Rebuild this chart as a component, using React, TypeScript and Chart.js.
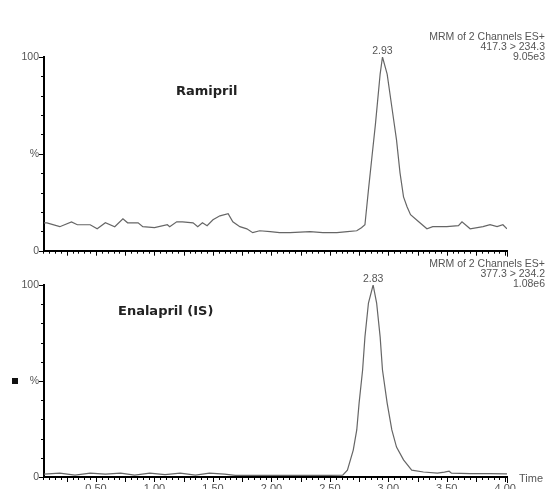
import React, { useEffect, useRef } from "react";
import { Chart, registerables } from "chart.js";

Chart.register(...registerables);

// ---- data (retention time in min, relative intensity in %) ----
const topTime = [0.055, 0.08, 0.19, 0.29, 0.34, 0.45, 0.51, 0.58, 0.66, 0.73, 0.77, 0.86, 0.9, 1.0, 1.11, 1.13, 1.19, 1.24, 1.33, 1.37, 1.41, 1.45, 1.5, 1.56, 1.63, 1.67, 1.73, 1.79, 1.84, 1.9, 1.99, 2.07, 2.16, 2.33, 2.44, 2.56, 2.65, 2.73, 2.77, 2.8, 2.83, 2.86, 2.89, 2.93, 2.95, 2.99, 3.03, 3.07, 3.1, 3.13, 3.16, 3.19, 3.25, 3.33, 3.38, 3.5, 3.6, 3.63, 3.7, 3.81, 3.87, 3.93, 3.98, 4.015];
const topIntensity = [14.4, 14.4, 12.4, 14.9, 13.4, 13.4, 11.3, 14.4, 12.4, 16.5, 14.4, 14.4, 12.4, 11.9, 13.4, 12.4, 14.9, 14.9, 14.4, 12.4, 14.4, 12.9, 16.0, 18.0, 19.1, 14.9, 12.4, 11.3, 9.3, 10.3, 9.8, 9.3, 9.3, 9.8, 9.3, 9.3, 9.8, 10.3, 11.9, 13.4, 31.4, 48.5, 65.5, 91.2, 100, 91.2, 74.2, 57.2, 40.2, 27.8, 22.7, 18.6, 15.5, 11.3, 12.4, 12.4, 12.9, 14.9, 11.3, 12.4, 13.4, 12.4, 13.4, 11.3];

const bottomTime = [0.055, 0.19, 0.32, 0.45, 0.58, 0.71, 0.83, 0.96, 1.09, 1.22, 1.35, 1.47, 1.6, 1.69, 1.9, 2.24, 2.5, 2.61, 2.65, 2.7, 2.73, 2.75, 2.78, 2.8, 2.83, 2.87, 2.9, 2.93, 2.95, 2.99, 3.03, 3.07, 3.13, 3.2, 3.3, 3.42, 3.48, 3.52, 3.54, 3.7, 3.87, 4.015];
const bottomIntensity = [1.5, 2, 1, 2, 1.5, 2, 1, 2, 1.2, 2, 1, 2, 1.5, 0.8, 0.8, 0.8, 0.8, 1, 3.6, 14, 24.5, 38.5, 55.7, 73, 90.6, 100, 90.6, 73, 55.7, 38.5, 24.5, 15.6, 8.9, 3.6, 2.6, 2, 2.5, 3, 2, 1.8, 1.8, 1.6];

const xTickLabels = [0.5, 1.0, 1.5, 2.0, 2.5, 3.0, 3.5, 4.0];
const yTickLabels = [0, 50, 100];

const topCompound = "Ramipril";
const bottomCompound = "Enalapril (IS)";
const topPeakLabel = "2.93";
const bottomPeakLabel = "2.83";
const topMrm = ["MRM of 2 Channels ES+", "417.3 > 234.3", "9.05e3"];
const bottomMrm = ["MRM of 2 Channels ES+", "377.3 > 234.2", "1.08e6"];

const X_MIN = 0.055;
const X_MAX = 4.015;

const tickPlugin = {
  id: "rulerTicks",
  afterDraw(chart: any) {
    const ctx = chart.ctx;
    const xs = chart.scales.x;
    const ys = chart.scales.y;
    ctx.save();
    ctx.strokeStyle = "#000";
    ctx.lineWidth = 1;
    for (let i = 1; i <= 80; i++) {
      const v = i * 0.05;
      const px = Math.round(xs.getPixelForValue(v)) + 0.5;
      const len = i % 5 === 0 ? 5 : 3;
      ctx.beginPath();
      ctx.moveTo(px, ys.bottom);
      ctx.lineTo(px, ys.bottom + len);
      ctx.stroke();
    }
    const ex = Math.round(xs.right) + 0.5;
    ctx.beginPath();
    ctx.moveTo(ex, ys.bottom);
    ctx.lineTo(ex, ys.bottom + 6);
    ctx.stroke();
    for (let i = 0; i <= 10; i++) {
      const v = i * 10;
      const py = Math.round(ys.getPixelForValue(v)) + 0.5;
      const len = i % 5 === 0 ? 5 : 3;
      ctx.beginPath();
      ctx.moveTo(xs.left, py);
      ctx.lineTo(xs.left - len, py);
      ctx.stroke();
    }
    ctx.restore();
  },
};

const annotPlugin = {
  id: "annot",
  afterDraw(chart: any) {
    const o = chart.options.plugins.annot;
    if (!o) return;
    const ctx = chart.ctx;
    const xs = chart.scales.x;
    const ys = chart.scales.y;
    ctx.save();
    ctx.fillStyle = "#555";
    ctx.font = "10.5px 'Liberation Sans', Arial, sans-serif";
    ctx.textAlign = "right";
    ctx.textBaseline = "middle";
    o.mrm.forEach((t: string, i: number) => {
      ctx.fillText(t, 545, o.mrmY + i * 10);
    });
    const ds = chart.data.datasets[0].data;
    let best = ds[0];
    ds.forEach((p: any) => {
      if (p.y > best.y) best = p;
    });
    ctx.textAlign = "center";
    ctx.textBaseline = "alphabetic";
    ctx.fillText(o.peak, xs.getPixelForValue(best.x), ys.getPixelForValue(best.y) - 3);
    ctx.fillStyle = "#222";
    ctx.font = "bold 13px 'DejaVu Sans', Verdana, sans-serif";
    ctx.textAlign = "left";
    ctx.textBaseline = "middle";
    ctx.fillText(o.name, o.nameX, o.nameY);
    if (o.square) {
      ctx.fillStyle = "#111";
      ctx.fillRect(12, ys.getPixelForValue(50) - 3, 6, 6);
    }
    if (o.timeLabel) {
      ctx.fillStyle = "#555";
      ctx.font = "11px 'Liberation Sans', Arial, sans-serif";
      ctx.textAlign = "left";
      ctx.fillText("Time", xs.right + 12, ys.bottom + 2);
    }
    ctx.restore();
  },
};

function makeConfig(
  times: number[],
  values: number[],
  opts: { padTop: number; xHeight: number; showXLabels: boolean; annot: any }
): any {
  return {
    type: "line",
    data: {
      datasets: [
        {
          data: times.map((t, i) => ({ x: t, y: values[i] })),
          borderColor: "#666",
          borderWidth: 1.2,
          pointRadius: 0,
          tension: 0,
          fill: false,
        },
      ],
    },
    options: {
      responsive: false,
      animation: false,
      layout: { autoPadding: false, padding: { top: opts.padTop, left: 0, right: 43, bottom: 0 } },
      plugins: {
        legend: { display: false },
        tooltip: { enabled: false },
        annot: opts.annot,
      },
      scales: {
        x: {
          type: "linear",
          min: X_MIN,
          max: X_MAX,
          afterBuildTicks: (s: any) => {
            s.ticks = xTickLabels.map((v) => ({ value: v }));
          },
          afterFit: (s: any) => {
            s.height = opts.xHeight;
          },
          grid: { display: false, drawTicks: false },
          border: { display: true, color: "#000", width: 2 },
          ticks: {
            display: opts.showXLabels,
            maxRotation: 0,
            autoSkip: false,
            padding: 5,
            color: "#555",
            font: { family: "'Liberation Sans', Arial, sans-serif", size: 11 },
            callback: (v: any) => Number(v).toFixed(2),
          },
        },
        y: {
          type: "linear",
          min: 0,
          max: 100,
          afterBuildTicks: (s: any) => {
            s.ticks = yTickLabels.map((v) => ({ value: v }));
          },
          afterFit: (s: any) => {
            s.width = 44;
          },
          grid: { display: false, drawTicks: false },
          border: { display: true, color: "#000", width: 2 },
          ticks: {
            padding: 5,
            color: "#555",
            font: { family: "'Liberation Sans', Arial, sans-serif", size: 10.5 },
            callback: (v: any) => (v === 50 ? "%" : String(v)),
          },
        },
      },
    },
    plugins: [tickPlugin, annotPlugin],
  };
}

export default function App() {
  const topRef = useRef<HTMLCanvasElement>(null);
  const botRef = useRef<HTMLCanvasElement>(null);

  useEffect(() => {
    const c1 = new Chart(
      topRef.current as HTMLCanvasElement,
      makeConfig(topTime, topIntensity, {
        padTop: 57,
        xHeight: 11,
        showXLabels: false,
        annot: { mrm: topMrm, mrmY: 37, peak: topPeakLabel, name: topCompound, nameX: 176, nameY: 92 },
      })
    );
    const c2 = new Chart(
      botRef.current as HTMLCanvasElement,
      makeConfig(bottomTime, bottomIntensity, {
        padTop: 30,
        xHeight: 12,
        showXLabels: true,
        annot: {
          mrm: bottomMrm,
          mrmY: 9,
          peak: bottomPeakLabel,
          name: bottomCompound,
          nameX: 118,
          nameY: 57,
          square: true,
          timeLabel: true,
        },
      })
    );
    return () => {
      c1.destroy();
      c2.destroy();
    };
  }, []);

  return (
    <div
      style={{
        position: "fixed",
        left: 0,
        top: 0,
        width: 550,
        height: 489,
        overflow: "hidden",
        background: "#fff",
      }}
    >
      <canvas ref={topRef} width={550} height={262} style={{ position: "absolute", left: 0, top: 0 }} />
      <canvas ref={botRef} width={550} height={234} style={{ position: "absolute", left: 0, top: 255 }} />
    </div>
  );
}
